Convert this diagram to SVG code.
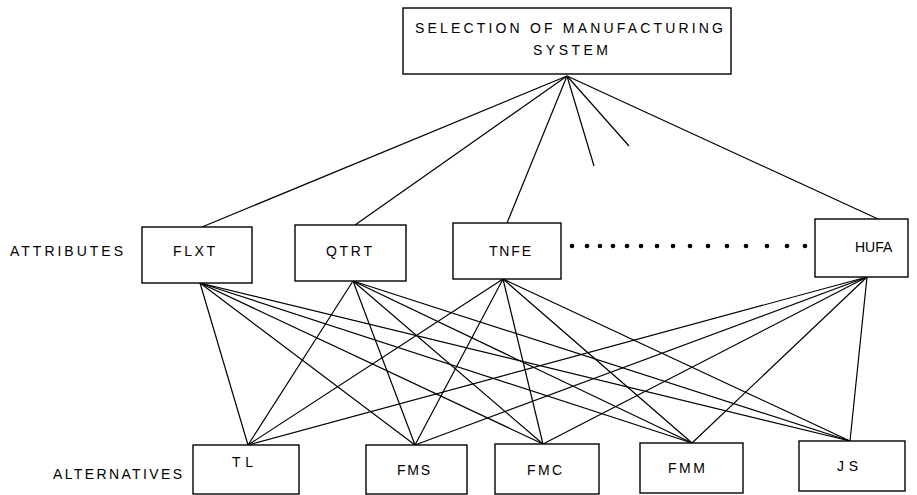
<svg xmlns="http://www.w3.org/2000/svg" width="917" height="495" viewBox="0 0 917 495">
<style>
.box{fill:#fff;stroke:#000;stroke-width:1.4}
.t{font-family:"Liberation Sans","DejaVu Sans",sans-serif;font-size:14px;fill:#000}
.c line{stroke:#000;stroke-width:1.2}
.dot{fill:#000}
</style>
<rect width="917" height="495" fill="#fff"/>
<g class="c" id="connectors">
<line x1="567" y1="76" x2="202" y2="227"/>
<line x1="567" y1="76" x2="355" y2="225"/>
<line x1="567" y1="76" x2="507" y2="223"/>
<line x1="567" y1="76" x2="594" y2="166"/>
<line x1="567" y1="76" x2="629" y2="146"/>
<line x1="567" y1="76" x2="878" y2="219"/>
<line x1="200" y1="283" x2="248" y2="445"/>
<line x1="200" y1="283" x2="415" y2="445"/>
<line x1="200" y1="283" x2="543" y2="444"/>
<line x1="200" y1="283" x2="692" y2="443"/>
<line x1="200" y1="283" x2="850" y2="441"/>
<line x1="353" y1="281" x2="248" y2="445"/>
<line x1="353" y1="281" x2="415" y2="445"/>
<line x1="353" y1="281" x2="543" y2="444"/>
<line x1="353" y1="281" x2="692" y2="443"/>
<line x1="353" y1="281" x2="850" y2="441"/>
<line x1="503" y1="279" x2="248" y2="445"/>
<line x1="503" y1="279" x2="415" y2="445"/>
<line x1="503" y1="279" x2="543" y2="444"/>
<line x1="503" y1="279" x2="692" y2="443"/>
<line x1="503" y1="279" x2="850" y2="441"/>
<line x1="867" y1="277" x2="248" y2="445"/>
<line x1="867" y1="277" x2="415" y2="445"/>
<line x1="867" y1="277" x2="543" y2="444"/>
<line x1="867" y1="277" x2="692" y2="443"/>
<line x1="867" y1="277" x2="850" y2="441"/>
</g>
<g id="goal">
<rect class="box" x="403" y="8" width="328" height="66"/>
<text class="t" x="415" y="33" textLength="308" lengthAdjust="spacing">SELECTION  OF  MANUFACTURING</text>
<text class="t" x="533" y="55" textLength="75" lengthAdjust="spacing">SYSTEM</text>
</g>
<text class="t" id="lbl-attributes" x="10" y="256" textLength="113" lengthAdjust="spacing">ATTRIBUTES</text>
<text class="t" id="lbl-alternatives" x="53" y="479" textLength="129" lengthAdjust="spacing">ALTERNATIVES</text>
<g id="FLXT">
<rect class="box" x="142" y="227" width="110" height="56"/>
<text class="t" x="173" y="256" textLength="42" lengthAdjust="spacing">FLXT</text>
</g>
<g id="QTRT">
<rect class="box" x="295" y="225" width="111" height="56"/>
<text class="t" x="326" y="256" textLength="46" lengthAdjust="spacing">QTRT</text>
</g>
<g id="TNFE">
<rect class="box" x="453" y="223" width="108" height="56"/>
<text class="t" x="489" y="256" textLength="42" lengthAdjust="spacing">TNFE</text>
</g>
<g id="dots">
<circle class="dot" cx="572" cy="246" r="2.3"/>
<circle class="dot" cx="587" cy="246" r="2.3"/>
<circle class="dot" cx="600" cy="246" r="2.3"/>
<circle class="dot" cx="613" cy="246" r="2.3"/>
<circle class="dot" cx="627" cy="246" r="2.3"/>
<circle class="dot" cx="641" cy="246" r="2.3"/>
<circle class="dot" cx="657" cy="246" r="2.3"/>
<circle class="dot" cx="673" cy="246" r="2.3"/>
<circle class="dot" cx="690" cy="246" r="2.3"/>
<circle class="dot" cx="708" cy="246" r="2.3"/>
<circle class="dot" cx="727" cy="246" r="2.3"/>
<circle class="dot" cx="746" cy="246" r="2.3"/>
<circle class="dot" cx="767" cy="246" r="2.3"/>
<circle class="dot" cx="787" cy="246" r="2.3"/>
<circle class="dot" cx="805" cy="246" r="2.3"/>
</g>
<g id="HUFA">
<rect class="box" x="815" y="219" width="93" height="58"/>
<text class="t" x="855" y="252" font-size="12.5">HUFA</text>
</g>
<g id="TL">
<rect class="box" x="193" y="445" width="106" height="49"/>
<text class="t" x="232" y="467" textLength="21" lengthAdjust="spacing" font-size="13">T L</text>
</g>
<g id="FMS">
<rect class="box" x="366" y="445" width="101" height="49"/>
<text class="t" x="397" y="475" textLength="33" lengthAdjust="spacing">FMS</text>
</g>
<g id="FMC">
<rect class="box" x="495" y="444" width="104" height="50"/>
<text class="t" x="527" y="475" textLength="35" lengthAdjust="spacing">FMC</text>
</g>
<g id="FMM">
<rect class="box" x="640" y="443" width="103" height="50"/>
<text class="t" x="668" y="473" textLength="37" lengthAdjust="spacing">FMM</text>
</g>
<g id="JS">
<rect class="box" x="799" y="441" width="106" height="50"/>
<text class="t" x="837" y="471" textLength="21" lengthAdjust="spacing" font-size="13">J S</text>
</g>
</svg>
